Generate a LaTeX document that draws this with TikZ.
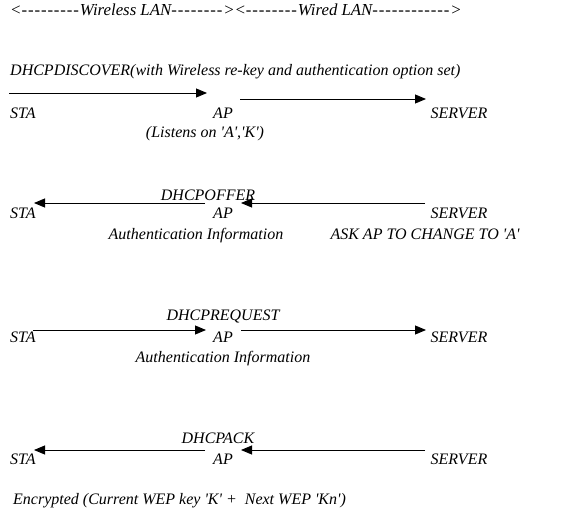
\documentclass[tikz,border=0pt]{standalone}
\usepackage{fontspec}
\setmainfont{Liberation Serif}[Ligatures=TeXOff]
\usepackage{tikz}
\usetikzlibrary{arrows.meta,positioning}
\newcommand{\dashrun}[1]{\foreach \i in {1,...,#1}{-\kern0.9pt}}

\begin{document}
\begin{tikzpicture}[
        x=1pt, y=-1pt,
        every node/.style={inner sep=0pt, anchor=base, font=\fontsize{16}{19}\selectfont\itshape},
        msg/.style={line width=0.9pt, -{Triangle[length=11pt, width=9pt]}},
        left text/.style={anchor=base west}
      ]
      \useasboundingbox (0,0) rectangle (571,514);
      \node[left text, font=\fontsize{16.8}{19}\selectfont\itshape] (lans) at (10,16) {<\dashrun{9}Wireless LAN\dashrun{8}><\dashrun{8}Wired LAN\dashrun{12}>};
      \node[left text] (discover) at (10,75) {DHCPDISCOVER(with Wireless re-key and authentication option set)};
      \node[left text] (sta1) at (10,118) {STA};
      \node (ap1) at (223,118) {AP};
      \node (server1) at (459,118) {SERVER};
      \node (listens) at (205,137) {(Listens on 'A','K')};
      \coordinate (d1a) at (9,93);
      \coordinate (d1b) at (207,93);
      \coordinate (d2a) at (240,99);
      \coordinate (d2b) at (426,99);
      \draw[msg] (d1a) -- (d1b);
      \draw[msg] (d2a) -- (d2b);

      \node (offer) at (208,200) {DHCPOFFER};
      \node[left text] (sta2) at (10,218) {STA};
      \node (ap2) at (223,218) {AP};
      \node (server2) at (459,218) {SERVER};
      \node (auth2) at (196,239) {Authentication Information};
      \node (ask) at (425,239) {ASK AP TO CHANGE TO 'A'};
      \coordinate (o1a) at (205,203);
      \coordinate (o1b) at (34,203);
      \coordinate (o2a) at (425,203);
      \coordinate (o2b) at (241,203);
      \draw[msg] (o1a) -- (o1b);
      \draw[msg] (o2a) -- (o2b);

      \node (request) at (223,320) {DHCPREQUEST};
      \node[left text] (sta3) at (10,342) {STA};
      \node (ap3) at (223,342) {AP};
      \node (server3) at (459,342) {SERVER};
      \node (auth3) at (223,362) {Authentication Information};
      \coordinate (r1a) at (33,330);
      \coordinate (r1b) at (206,330);
      \coordinate (r2a) at (241,330);
      \coordinate (r2b) at (426,330);
      \draw[msg] (r1a) -- (r1b);
      \draw[msg] (r2a) -- (r2b);

      \node (ack) at (218,443) {DHCPACK};
      \node[left text] (sta4) at (10,464) {STA};
      \node (ap4) at (223,464) {AP};
      \node (server4) at (459,464) {SERVER};
      \node[left text] (encrypted) at (13,504) {Encrypted (Current WEP key 'K' +~ Next WEP 'Kn')};
      \coordinate (a1a) at (205,450);
      \coordinate (a1b) at (34,450);
      \coordinate (a2a) at (425,450);
      \coordinate (a2b) at (241,450);
      \draw[msg] (a1a) -- (a1b);
      \draw[msg] (a2a) -- (a2b);
    \end{tikzpicture}
\end{document}
